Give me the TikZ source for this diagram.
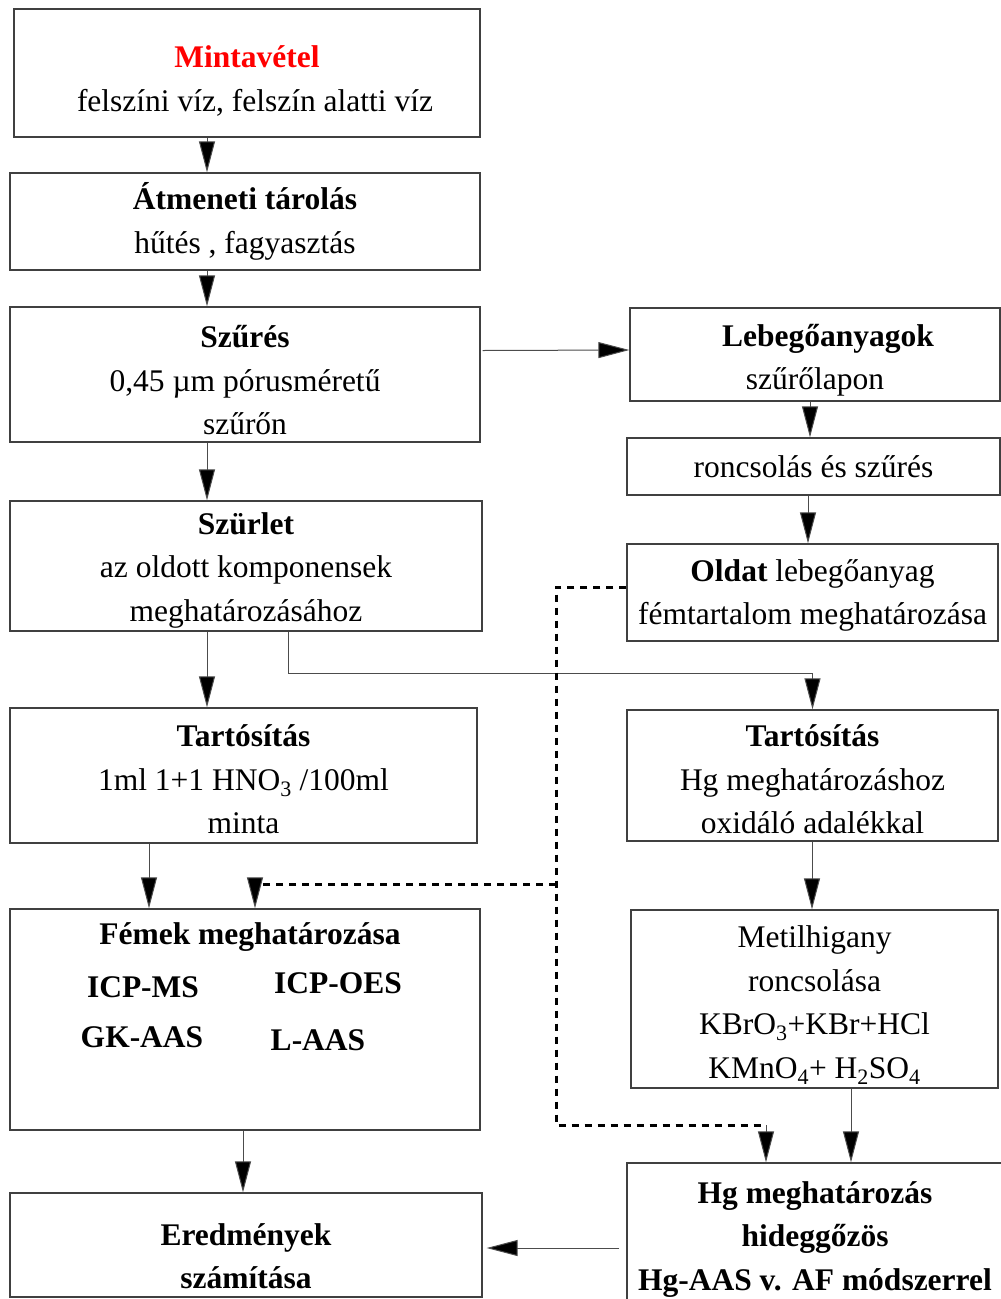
\documentclass[tikz,border=0pt]{standalone}
\usepackage{fontspec}
\setmainfont{Liberation Serif}
\usetikzlibrary{arrows.meta}
\newcommand{\felso}[1]{\rule{0pt}{#1}}
\begin{document}
\begin{tikzpicture}[x=1pt,y=-1pt,
  box/.style={draw=black!75,line width=1.3pt,inner sep=0pt,align=center,font=\fontsize{31.5}{43.5}\selectfont},
  felirat/.style={inner sep=0pt,font=\fontsize{31.5}{43.5}\selectfont\bfseries},
  arrow/.style={draw=black!70,line width=1pt,-{Triangle[length=31pt,width=16pt,fill=black]}},
  dots/.style={draw,line width=3pt,dash pattern=on 7pt off 6pt}]
\clip (0,0) rectangle (1001,1299);
\node[box,minimum width=466,minimum height=128] at (247,73) (minta) {\felso{38pt}{\color{red}\bfseries Mintavétel}\\\hspace*{16pt}felszíni víz, felszín alatti víz};
\node[box,minimum width=470,minimum height=97] at (245,221.5) (tarolas) {\textbf{Átmeneti tárolás}\\hűtés , fagyasztás};
\node[box,minimum width=470,minimum height=135] at (245,374.5) (szures) {\felso{34pt}\textbf{Szűrés}\\0,45 µm pórusméretű\\szűrőn};
\node[box,minimum width=472,minimum height=130] at (246,566) (szurlet) {\felso{30pt}\textbf{Szürlet}\\az oldott komponensek\\meghatározásához};
\node[box,minimum width=467,minimum height=135] at (243.5,775.5) (tartos) {\felso{30pt}\textbf{Tartósítás}\\1ml 1+1 HNO\textsubscript{3} /100ml\\minta};
\node[box,minimum width=470,minimum height=221] at (245,1019.5) (femek) {};
\node[felirat] at (250,937) (femekcim) {Fémek meghatározása};
\node[felirat] at (143,987) (icpms) {ICP-MS};
\node[felirat] at (338,983) (icpoes) {ICP-OES};
\node[felirat] at (142,1037) (gkaas) {GK-AAS};
\node[felirat] at (318,1040) (laas) {L-AAS};
\node[box,minimum width=472,minimum height=104] at (246,1245) (eredmeny) {\felso{44pt}\textbf{Eredmények}\\\textbf{számítása}};
\node[box,minimum width=370,minimum height=93] at (815,354.5) (lebego) {\felso{34pt}\hspace*{26pt}\textbf{Lebegőanyagok}\\szűrőlapon};
\node[box,minimum width=373,minimum height=57] at (813.5,466.5) (roncs) {roncsolás és szűrés};
\node[box,minimum width=371,minimum height=97] at (812.5,592.5) (oldat) {\felso{28pt}\textbf{Oldat} lebegőanyag\\fémtartalom meghatározása};
\node[box,minimum width=371,minimum height=131] at (812.5,775.5) (hgtartos) {\felso{30pt}\textbf{Tartósítás}\\Hg meghatározáshoz\\oxidáló adalékkal};
\node[box,minimum width=367,minimum height=178] at (814.5,999) (metil) {\felso{34pt}Metilhigany\\roncsolása\\KBrO\textsubscript{3}+KBr+HCl\\KMnO\textsubscript{4}+ H\textsubscript{2}SO\textsubscript{4}};
\node[box,minimum width=376,minimum height=144] at (815,1235) (hgmeg) {\felso{30pt}\textbf{Hg meghatározás}\\\textbf{hideggőzös}\\\textbf{Hg-AAS v. AF módszerrel}};
\coordinate (pont1) at (556,884);
\coordinate (pont2) at (766,1125);
\coordinate (pont3) at (255,884);
\draw[arrow] ([shift={(-40,0)}]minta.south) to ([shift={(-38,0)}]tarolas.north);
\draw[arrow] ([shift={(-38,0)}]tarolas.south) to ([shift={(-38,0)}]szures.north);
\draw[arrow] ([shift={(2,-24)}]szures.east) to ([shift={(0,-4.5)}]lebego.west);
\draw[arrow] ([shift={(-38,0)}]szures.south) to ([shift={(-39,0)}]szurlet.north);
\draw[arrow] ([shift={(-5,0)}]lebego.south) to ([shift={(-3.5,0)}]roncs.north);
\draw[arrow] ([shift={(-5.5,0)}]roncs.south) to ([shift={(-4.5,0)}]oldat.north);
\draw[arrow] ([shift={(-39,0)}]szurlet.south) to ([shift={(-36.5,0)}]tartos.north);
\draw[arrow] ([shift={(42,0)}]szurlet.south) |- ([shift={(0,-36)}]hgtartos.north) -- (hgtartos.north);
\draw[arrow] ([shift={(-94.5,0)}]tartos.south) to ([shift={(-96,0)}]femek.north);
\draw[arrow] ([shift={(-0.5,0)}]hgtartos.south) to ([shift={(-2.5,0)}]metil.north);
\draw[arrow] ([shift={(36.5,0)}]metil.south) to ([shift={(36,0)}]hgmeg.north);
\draw[arrow] ([shift={(-2,0)}]femek.south) to ([shift={(-3,0)}]eredmeny.north);
\draw[arrow] ([shift={(-7,13)}]hgmeg.west) to ([shift={(4,3)}]eredmeny.east);
\draw[dots] ([shift={(0,-5.5)}]oldat.west) -| (pont1) |- (pont2);
\draw[dots] (pont1) -- (pont3);
\draw[arrow] (pont3) to (pont3 |- femek.north);
\draw[arrow] (pont2) to (pont2 |- hgmeg.north);
\end{tikzpicture}
\end{document}
